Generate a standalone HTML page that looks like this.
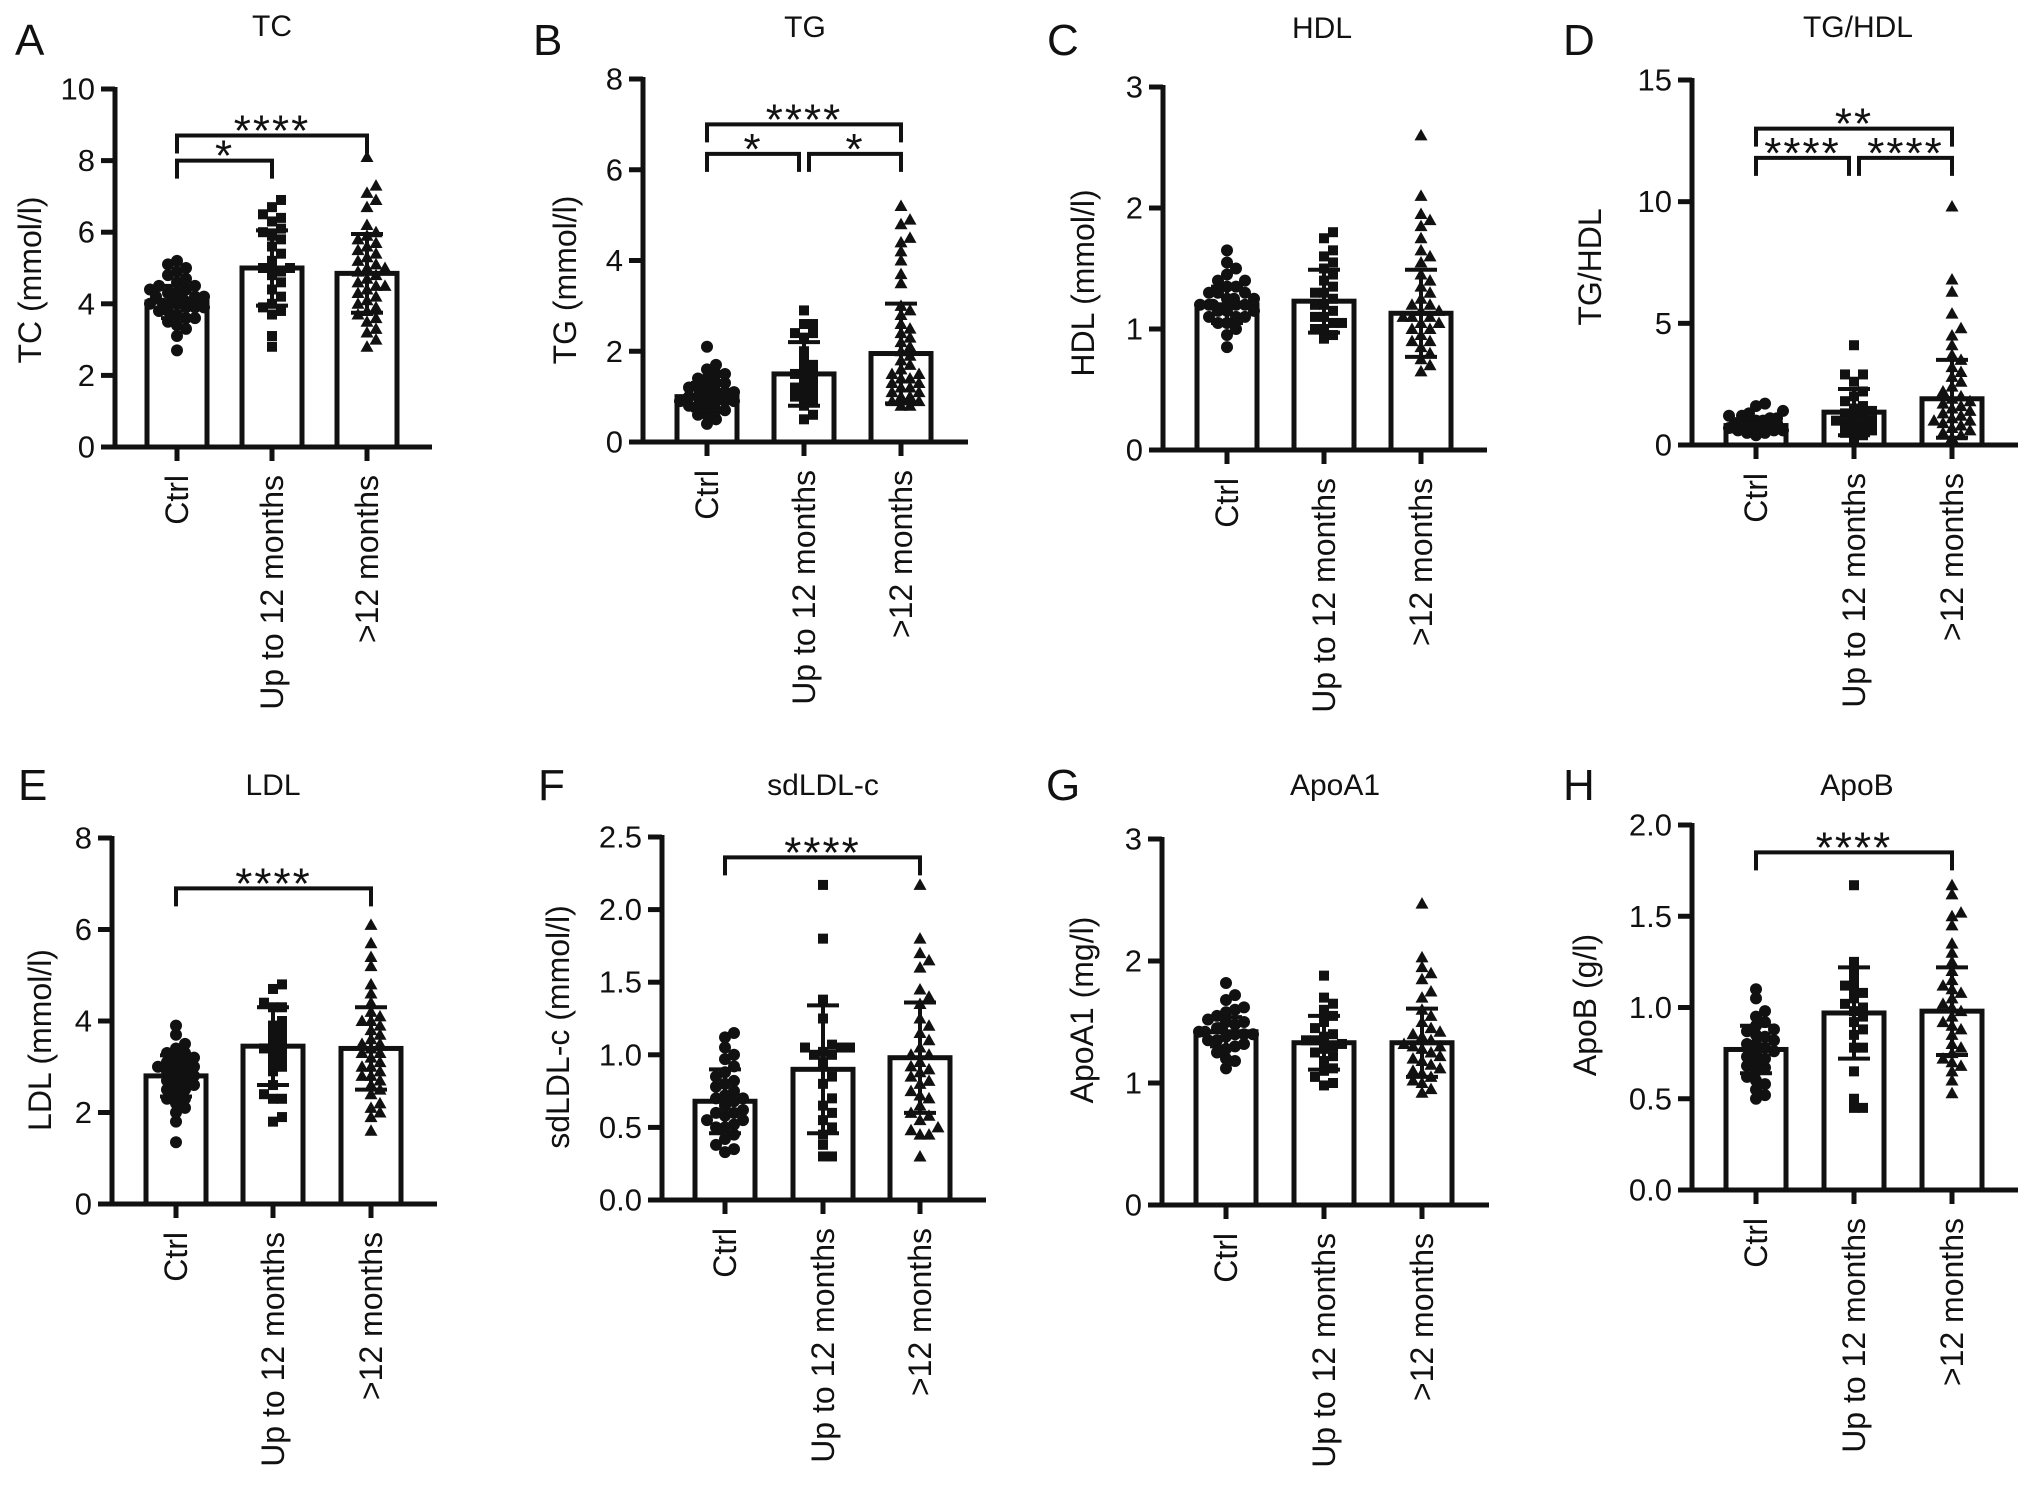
<!DOCTYPE html>
<html><head><meta charset="utf-8"><title>Lipid profiles</title>
<style>
html,body{margin:0;padding:0;background:#fff;}
svg{display:block;font-family:"Liberation Sans",Arial,sans-serif;}
</style></head>
<body>
<svg id="fig" width="2032" height="1491" viewBox="0 0 2032 1491" xmlns="http://www.w3.org/2000/svg"></svg>
<script>
// ---------- DATA ----------
const categories = ["Ctrl", "Up to 12 months", ">12 months"];

const tcTicks = ["0","2","4","6","8","10"];
const tcMeans = [4.05, 5.0, 4.85];
const tcSD = [0.45, 1.05, 1.1];
const tcCtrl = [2.7,3.1,3.3,3.4,3.5,3.6,3.6,3.7,3.8,3.8,3.9,3.9,4.0,4.0,4.0,4.1,4.1,4.2,4.2,4.3,4.3,4.4,4.4,4.5,4.5,4.6,4.7,4.8,4.9,5.0,5.1,5.2,3.9,4.0,4.2,4.3];
const tcUp = [2.8,3.1,3.7,3.8,3.9,4.0,4.2,4.4,4.6,4.8,4.9,5.0,5.0,5.2,5.4,5.6,5.8,5.9,6.0,6.1,6.3,6.4,6.5,6.7,6.9];
const tcOver = [2.8,3.0,3.2,3.3,3.5,3.6,3.7,3.8,3.9,4.0,4.1,4.2,4.3,4.4,4.5,4.5,4.6,4.7,4.8,4.9,5.0,5.0,5.1,5.2,5.3,5.4,5.5,5.6,5.7,5.8,5.9,6.0,6.2,6.7,6.9,7.1,7.3,8.1];
const tcSig = [[0,1,8.0,"*"],[0,2,8.7,"****"]];

const tgTicks = ["0","2","4","6","8"];
const tgMeans = [1.0, 1.5, 1.95];
const tgSD = [0.3, 0.7, 1.1];
const tgCtrl = [0.4,0.5,0.6,0.6,0.7,0.7,0.8,0.8,0.8,0.9,0.9,0.9,1.0,1.0,1.0,1.0,1.1,1.1,1.1,1.2,1.2,1.2,1.3,1.3,1.4,1.4,1.5,1.5,1.6,1.7,2.1,1.0,0.9];
const tgUp = [0.5,0.6,0.8,0.9,1.0,1.0,1.1,1.2,1.2,1.3,1.4,1.5,1.5,1.6,1.7,1.8,2.0,2.3,2.4,2.4,2.6,2.6,2.9];
const tgOver = [0.8,0.8,0.9,0.9,1.0,1.0,1.1,1.1,1.2,1.2,1.3,1.3,1.4,1.4,1.5,1.5,1.6,1.7,1.8,1.9,2.0,2.1,2.2,2.3,2.4,2.5,2.6,2.8,2.9,3.0,3.5,3.7,4.0,4.2,4.4,4.5,4.8,4.9,5.2];
const tgSig = [[0,1,6.35,"*"],[1,2,6.35,"*"],[0,2,7.0,"****"]];

const hdlTicks = ["0","1","2","3"];
const hdlMeans = [1.2, 1.23, 1.13];
const hdlSD = [0.15, 0.26, 0.36];
const hdlCtrl = [0.85,0.95,1.0,1.05,1.05,1.1,1.1,1.1,1.15,1.15,1.2,1.2,1.2,1.2,1.25,1.25,1.25,1.3,1.3,1.3,1.35,1.35,1.4,1.4,1.45,1.5,1.55,1.65,1.2,1.15];
const hdlUp = [0.92,0.95,1.0,1.0,1.05,1.05,1.1,1.1,1.15,1.2,1.2,1.25,1.3,1.3,1.35,1.4,1.45,1.5,1.55,1.6,1.65,1.75,1.8];
const hdlOver = [0.65,0.7,0.75,0.8,0.85,0.9,0.9,0.95,1.0,1.0,1.05,1.05,1.1,1.1,1.1,1.15,1.15,1.2,1.2,1.25,1.3,1.35,1.4,1.45,1.55,1.6,1.65,1.75,1.85,1.9,1.95,2.1,2.6];
const hdlSig = [];

const ratioTicks = ["0","5","10","15"];
const ratioMeans = [0.8, 1.35, 1.9];
const ratioSD = [0.3, 0.95, 1.6];
const ratioCtrl = [0.4,0.5,0.5,0.6,0.6,0.6,0.7,0.7,0.7,0.8,0.8,0.8,0.8,0.9,0.9,0.9,1.0,1.0,1.0,1.1,1.1,1.2,1.2,1.3,1.4,1.6,1.7];
const ratioUp = [0.3,0.4,0.5,0.6,0.7,0.8,0.9,1.0,1.0,1.1,1.2,1.3,1.4,1.5,1.6,1.8,2.0,2.2,2.6,2.9,2.9,4.1];
const ratioOver = [0.3,0.4,0.5,0.6,0.7,0.8,0.9,1.0,1.0,1.1,1.2,1.3,1.4,1.5,1.6,1.7,1.8,1.9,2.0,2.2,2.4,2.6,2.8,3.0,3.2,3.5,3.7,4.1,4.5,4.8,5.4,6.3,6.8,9.8];
const ratioSig = [[0,1,11.8,"****"],[1,2,11.8,"****"],[0,2,13.0,"**"]];

const ldlTicks = ["0","2","4","6","8"];
const ldlMeans = [2.8, 3.45, 3.4];
const ldlSD = [0.45, 0.85, 0.9];
const ldlCtrl = [1.35,1.8,2.0,2.1,2.2,2.3,2.3,2.4,2.5,2.5,2.6,2.6,2.7,2.7,2.8,2.8,2.9,2.9,3.0,3.0,3.0,3.1,3.1,3.2,3.2,3.3,3.3,3.4,3.5,3.7,3.9];
const ldlUp = [1.8,1.9,2.3,2.3,2.4,2.6,2.9,3.0,3.1,3.2,3.3,3.4,3.4,3.5,3.6,3.7,3.8,3.9,4.0,4.3,4.3,4.4,4.7,4.8];
const ldlOver = [1.6,1.9,2.0,2.1,2.2,2.4,2.5,2.6,2.7,2.8,2.8,2.9,3.0,3.0,3.1,3.2,3.3,3.3,3.4,3.5,3.5,3.6,3.7,3.8,3.9,4.0,4.0,4.1,4.2,4.4,4.6,4.8,5.2,5.4,5.7,6.1];
const ldlSig = [[0,2,6.9,"****"]];

const sdTicks = ["0.0","0.5","1.0","1.5","2.0","2.5"];
const sdMeans = [0.68, 0.9, 0.98];
const sdSD = [0.22, 0.44, 0.38];
const sdCtrl = [0.33,0.35,0.38,0.42,0.45,0.5,0.5,0.52,0.55,0.55,0.58,0.6,0.6,0.62,0.65,0.68,0.7,0.7,0.72,0.75,0.78,0.8,0.82,0.85,0.88,0.92,0.97,1.0,1.05,1.12,1.15];
const sdUp = [0.3,0.3,0.38,0.45,0.5,0.55,0.6,0.65,0.7,0.8,0.85,0.95,1.0,1.0,1.02,1.05,1.05,1.07,1.05,1.25,1.38,1.8,2.17];
const sdOver = [0.3,0.45,0.45,0.48,0.5,0.55,0.58,0.6,0.65,0.7,0.72,0.75,0.8,0.82,0.85,0.88,0.9,0.92,0.95,1.0,1.0,1.05,1.1,1.15,1.2,1.25,1.35,1.4,1.45,1.6,1.65,1.7,1.8,2.17];
const sdSig = [[0,2,2.36,"****"]];

const apoaTicks = ["0","1","2","3"];
const apoaMeans = [1.42, 1.33, 1.33];
const apoaSD = [0.12, 0.22, 0.28];
const apoaCtrl = [1.12,1.18,1.2,1.25,1.28,1.3,1.32,1.35,1.35,1.38,1.4,1.4,1.42,1.42,1.45,1.45,1.48,1.5,1.5,1.52,1.55,1.58,1.6,1.62,1.68,1.72,1.82,1.4];
const apoaUp = [0.98,1.0,1.05,1.1,1.12,1.18,1.22,1.25,1.28,1.3,1.32,1.35,1.35,1.38,1.4,1.45,1.5,1.55,1.6,1.65,1.7,1.88];
const apoaOver = [0.92,0.95,1.0,1.02,1.05,1.08,1.1,1.12,1.15,1.18,1.2,1.22,1.25,1.28,1.3,1.3,1.32,1.35,1.38,1.4,1.42,1.45,1.5,1.55,1.6,1.7,1.75,1.85,1.9,1.95,2.03,2.47];
const apoaSig = [];

const apobTicks = ["0.0","0.5","1.0","1.5","2.0"];
const apobMeans = [0.77, 0.97, 0.98];
const apobSD = [0.13, 0.25, 0.24];
const apobCtrl = [0.5,0.52,0.55,0.58,0.6,0.62,0.65,0.67,0.68,0.7,0.72,0.73,0.75,0.76,0.78,0.8,0.8,0.82,0.84,0.85,0.87,0.88,0.9,0.92,0.95,0.98,1.05,1.1];
const apobUp = [0.45,0.45,0.5,0.65,0.78,0.78,0.85,0.88,0.92,0.95,0.98,1.0,1.02,1.05,1.08,1.1,1.12,1.15,1.2,1.25,1.67];
const apobOver = [0.53,0.6,0.65,0.68,0.7,0.72,0.75,0.78,0.8,0.85,0.88,0.9,0.92,0.95,0.98,1.0,1.02,1.05,1.08,1.1,1.12,1.15,1.2,1.25,1.3,1.35,1.45,1.5,1.52,1.62,1.67];
const apobSig = [[0,2,1.85,"****"]];

// ---------- LAYOUT ----------
const NS = "http://www.w3.org/2000/svg";
const svg = document.getElementById("fig");
function mk(tag, attrs, parent){
  const e = document.createElementNS(NS, tag);
  for (const k in attrs) e.setAttribute(k, attrs[k]);
  (parent || svg).appendChild(e);
  return e;
}

const panels = [
 {id:"tc", letter:"A", title:"TC", ytitle:"TC (mmol/l)", ticks:tcTicks, max:10, means:tcMeans, sd:tcSD, groups:[tcCtrl,tcUp,tcOver], sig:tcSig,
  ax:115, y0:447, yt:89, right:432, cx:[177,272,367], lx:15, ly:55, tx:272, ty:36, ytx:30, yty:280},
 {id:"tg", letter:"B", title:"TG", ytitle:"TG (mmol/l)", ticks:tgTicks, max:8, means:tgMeans, sd:tgSD, groups:[tgCtrl,tgUp,tgOver], sig:tgSig,
  ax:643, y0:442, yt:79, right:968, cx:[707,804,901], lx:533, ly:55, tx:805, ty:37, ytx:565, yty:280},
 {id:"hdl", letter:"C", title:"HDL", ytitle:"HDL (mmol/l)", ticks:hdlTicks, max:3, means:hdlMeans, sd:hdlSD, groups:[hdlCtrl,hdlUp,hdlOver], sig:hdlSig,
  ax:1163, y0:450, yt:87, right:1487, cx:[1227,1324,1421], lx:1047, ly:55, tx:1322, ty:38, ytx:1083, yty:283},
 {id:"tghdl", letter:"D", title:"TG/HDL", ytitle:"TG/HDL", ticks:ratioTicks, max:15, means:ratioMeans, sd:ratioSD, groups:[ratioCtrl,ratioUp,ratioOver], sig:ratioSig,
  ax:1692, y0:445, yt:80, right:2018, cx:[1756,1854,1952], lx:1563, ly:55, tx:1858, ty:37, ytx:1590, yty:267},
 {id:"ldl", letter:"E", title:"LDL", ytitle:"LDL (mmol/l)", ticks:ldlTicks, max:8, means:ldlMeans, sd:ldlSD, groups:[ldlCtrl,ldlUp,ldlOver], sig:ldlSig,
  ax:112, y0:1204, yt:838, right:437, cx:[176,273,371], lx:18, ly:800, tx:273, ty:795, ytx:40, yty:1040},
 {id:"sdldl", letter:"F", title:"sdLDL-c", ytitle:"sdLDL-c (mmol/l)", ticks:sdTicks, max:2.5, means:sdMeans, sd:sdSD, groups:[sdCtrl,sdUp,sdOver], sig:sdSig,
  ax:662, y0:1200, yt:837, right:986, cx:[725,823,920], lx:538, ly:800, tx:823, ty:795, ytx:558, yty:1027},
 {id:"apoa1", letter:"G", title:"ApoA1", ytitle:"ApoA1 (mg/l)", ticks:apoaTicks, max:3, means:apoaMeans, sd:apoaSD, groups:[apoaCtrl,apoaUp,apoaOver], sig:apoaSig,
  ax:1162, y0:1205, yt:839, right:1489, cx:[1226,1324,1422], lx:1046, ly:800, tx:1335, ty:795, ytx:1082, yty:1010},
 {id:"apob", letter:"H", title:"ApoB", ytitle:"ApoB (g/l)", ticks:apobTicks, max:2, means:apobMeans, sd:apobSD, groups:[apobCtrl,apobUp,apobOver], sig:apobSig,
  ax:1692, y0:1190, yt:825, right:2018, cx:[1756,1854,1952], lx:1563, ly:800, tx:1857, ty:795, ytx:1585, yty:1005}
];

const shapeNames = ["circle-point","square-point","triangle-point"];

function drawMarker(g, shape, x, y){
  let e;
  if (shape === 0) e = mk("circle", {cx:x, cy:y, r:6, fill:"#111"}, g);
  else if (shape === 1) e = mk("rect", {x:x-5, y:y-5, width:10, height:10, fill:"#111"}, g);
  else e = mk("polygon", {points:`${x},${y-6.5} ${x-6.5},${y+5} ${x+6.5},${y+5}`, fill:"#111"}, g);
  return e;
}

panels.forEach(p => {
  const g = mk("g", {});
  
  
  const yScale = v => p.y0 - (v / p.max) * (p.y0 - p.yt);

  const L = mk("text", {x:p.lx, y:p.ly, "font-size":44, fill:"#111"}, g);
  L.textContent = p.letter;
  
  

  const T = mk("text", {x:p.tx, y:p.ty, "font-size":30, "text-anchor":"middle", fill:"#111"}, g);
  T.textContent = p.title;
  
  

  const YT = mk("text", {transform:`translate(${p.ytx},${p.yty}) rotate(-90)`, "font-size":32, "text-anchor":"middle", "dominant-baseline":"central", fill:"#111"}, g);
  YT.textContent = p.ytitle;
  
  

  p.means.forEach((m, i) => {
    const top = yScale(m);
    const b = mk("rect", {x:p.cx[i]-30, y:top, width:60, height:p.y0-top, fill:"#fff", stroke:"#111", "stroke-width":5}, g);
    
    
  });

  p.groups.forEach((vals, gi) => {
    const pg = mk("g", {}, g);
    
    
    const placed = [];
    const d = 9;
    const order = vals.map((v, k) => [v, k]).sort((a, b) => a[0] - b[0]);
    order.forEach(([v]) => {
      const y = yScale(v);
      let off = 0, found = false;
      for (let s = 0; s < 7; s++) {
        const cand = s === 0 ? 0 : (s % 2 ? 1 : -1) * Math.ceil(s / 2) * d;
        if (placed.every(q => Math.hypot(q[0] - cand, q[1] - y) >= d)) { off = cand; found = true; break; }
      }
      if (!found) off = ((placed.length % 7) - 3) * 7;
      placed.push([off, y]);
      const e = drawMarker(pg, gi, p.cx[gi] + off, y);
      
      
    });
  });

  p.means.forEach((m, i) => {
    const lo = yScale(m - p.sd[i]), hi = yScale(m + p.sd[i]);
    const eg = mk("g", {stroke:"#111", "stroke-width":4}, g);
    
    
    mk("line", {x1:p.cx[i], y1:lo, x2:p.cx[i], y2:hi}, eg);
    mk("line", {x1:p.cx[i]-16, y1:lo, x2:p.cx[i]+16, y2:lo}, eg);
    mk("line", {x1:p.cx[i]-16, y1:hi, x2:p.cx[i]+16, y2:hi}, eg);
  });

  const axg = mk("g", {stroke:"#111", "stroke-width":5}, g);
  
  
  mk("line", {x1:p.ax, y1:p.yt-2, x2:p.ax, y2:p.y0+2}, axg);
  mk("line", {x1:p.ax-14, y1:p.y0, x2:p.right, y2:p.y0}, axg);
  p.ticks.forEach((t, k) => {
    const v = p.max * k / (p.ticks.length - 1);
    const y = yScale(v);
    mk("line", {x1:p.ax-14, y1:y, x2:p.ax, y2:y}, axg);
    const tl = mk("text", {x:p.ax-20, y:y, "font-size":31, "text-anchor":"end", "dominant-baseline":"central", fill:"#111", stroke:"none"}, g);
    tl.textContent = t;
    
    
  });
  p.cx.forEach((c, i) => {
    mk("line", {x1:c, y1:p.y0, x2:c, y2:p.y0+14}, axg);
    const cl = mk("text", {transform:`translate(${c},${p.y0+28}) rotate(-90)`, "font-size":32, "text-anchor":"end", "dominant-baseline":"central", fill:"#111"}, g);
    cl.textContent = categories[i];
    
    
  });

  p.sig.forEach(s => {
    const [a, b, lvl, stars] = s;
    const y = yScale(lvl);
    let xa = p.cx[a], xb = p.cx[b];
    if (b - a === 1) {
      if (p.sig.some(o => o !== s && o[0] === b && o[1] - o[0] === 1)) xb -= 5;
      if (p.sig.some(o => o !== s && o[1] === a && o[1] - o[0] === 1)) xa += 5;
    }
    const sg = mk("g", {}, g);
    
    
    mk("path", {d:`M${xa},${y+18} V${y} H${xb} V${y+18}`, fill:"none", stroke:"#111", "stroke-width":4}, sg);
    const st = mk("text", {x:(xa+xb)/2, y:y+10, "font-size":44, "letter-spacing":2, "text-anchor":"middle", fill:"#111"}, sg);
    st.textContent = stars;
    
    
  });
});
</script>
</body></html>
